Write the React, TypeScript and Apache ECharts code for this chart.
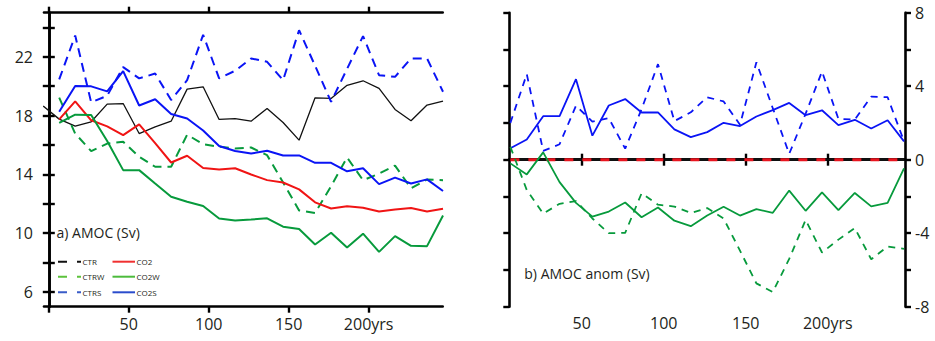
import React, { useEffect, useRef } from "react";
import * as echarts from "echarts";

// Model years (decadal means)
const years = [6.5, 16.5, 26.5, 36.5, 46.5, 56.5, 66.5, 76.5, 86.5, 96.5, 106.5, 116.5, 126.5, 136.5, 146.5, 156.5, 166.5, 176.5, 186.5, 196.5, 206.5, 216.5, 226.5, 236.5, 246.5];
const yearsCtr = [-3.5, 6.5, 16.5, 26.5, 36.5, 46.5, 56.5, 66.5, 76.5, 86.5, 96.5, 106.5, 116.5, 126.5, 136.5, 146.5, 156.5, 166.5, 176.5, 186.5, 196.5, 206.5, 216.5, 226.5, 236.5, 246.5];

// Panel a) AMOC (Sv)
const ctr = [18.65, 17.76, 17.28, 17.58, 18.78, 18.82, 16.78, 17.23, 17.62, 19.8, 19.96, 17.74, 17.8, 17.62, 18.49, 17.53, 16.33, 19.21, 19.17, 20.06, 20.37, 19.85, 18.42, 17.65, 18.72, 18.98];
const ctrs = [20.46, 23.45, 18.9, 19.35, 21.3, 20.53, 20.86, 19.06, 20.41, 23.5, 20.53, 21.05, 21.89, 21.66, 20.41, 23.81, 21.39, 18.94, 21.18, 23.41, 20.75, 20.64, 21.89, 21.89, 19.62];
const ctrw = [19.22, 16.78, 15.58, 16.1, 16.22, 15.2, 14.52, 14.52, 16.7, 16.06, 15.88, 15.76, 15.83, 15.31, 13.45, 11.55, 11.37, 13.2, 15.15, 13.6, 14.05, 14.6, 13.05, 13.65, 13.6];
const co2 = [17.74, 18.97, 17.68, 17.27, 16.67, 17.4, 16.13, 14.81, 15.27, 14.44, 14.34, 14.42, 13.99, 13.61, 13.45, 12.98, 12.1, 11.68, 11.83, 11.73, 11.47, 11.61, 11.71, 11.48, 11.66];
const co2w = [17.5, 18.06, 18.04, 16.27, 14.29, 14.29, 13.38, 12.48, 12.14, 11.85, 11.0, 10.86, 10.93, 11.01, 10.44, 10.29, 9.23, 10.03, 9.02, 9.97, 8.73, 9.8, 9.14, 9.12, 11.2];
const co2s = [18.26, 20.02, 19.99, 19.65, 21.03, 18.69, 19.11, 18.11, 17.8, 16.99, 15.93, 15.59, 15.42, 15.61, 15.29, 15.29, 14.79, 14.79, 14.21, 14.42, 13.34, 13.78, 13.38, 13.66, 12.87];

// Panel b) AMOC anomalies (Sv)
const anomZeroBlack = [0, 0, 0, 0, 0, 0, 0, 0, 0, 0, 0, 0, 0, 0, 0, 0, 0, 0, 0, 0, 0, 0, 0, 0, 0];
const anomZeroRed = [0, 0, 0, 0, 0, 0, 0, 0, 0, 0, 0, 0, 0, 0, 0, 0, 0, 0, 0, 0, 0, 0, 0, 0, 0];
const anomS = [0.62, 1.1, 2.37, 2.37, 4.38, 1.31, 2.95, 3.3, 2.57, 2.57, 1.65, 1.23, 1.5, 2.01, 1.83, 2.35, 2.7, 3.09, 2.42, 2.69, 1.88, 2.17, 1.7, 2.15, 1.0];
const anomCtrS = [2.0, 4.66, 0.48, 0.84, 2.94, 2.07, 2.26, 0.6, 2.75, 5.2, 2.1, 2.58, 3.4, 3.17, 1.9, 5.3, 2.8, 0.32, 2.5, 4.8, 2.22, 2.18, 3.43, 3.4, 1.0];
const anomW = [-0.2, -0.8, 0.4, -1.22, -2.35, -3.1, -2.82, -2.33, -3.13, -2.6, -3.32, -3.62, -3.04, -2.56, -3.04, -2.69, -2.89, -1.68, -2.78, -1.78, -2.74, -1.81, -2.54, -2.35, -0.47];
const anomCtrW = [0.7, -1.65, -2.93, -2.4, -2.25, -3.2, -4.0, -3.98, -1.83, -2.45, -2.55, -2.9, -2.63, -3.2, -4.95, -6.73, -7.2, -5.4, -3.28, -5.05, -4.35, -3.72, -5.42, -4.72, -4.85];

// Axis ticks / labels
const xTicksA = [0, 50, 100, 150, 200];
const xTicksB = [50, 100, 150, 200];
const xLabels = [50, 100, 150, 200];
const yTicksA = [6, 8, 10, 12, 14, 16, 18, 20, 22, 24];
const yLabelsA = [6, 10, 14, 18, 22];
const yLabelsB = [-8, -4, 0, 4, 8];

const legendDashed = ["CTR", "CTRW", "CTRS"];
const legendSolid = ["CO2", "CO2W", "CO2S"];

const BLUE = "#0a14f5";
const RED = "#f01414";
const GREEN = "#079a3c";
const BLACK = "#111111";
const TXT = "#231f20";
const FONT = "Open Sans";

const pair = (xs: number[], vs: number[]) => xs.map((x, i) => [x, vs[i]]);

export default function App() {
  const ref = useRef<HTMLDivElement>(null);
  useEffect(() => {
    if (!ref.current) return;
    const chart = echarts.init(ref.current, null, { renderer: "svg" });
    const axisLine = { show: true, lineStyle: { color: "#000", width: 2.6 } };
    const tick = (vals: number[]) => ({
      show: true,
      inside: false,
      length: 6,
      customValues: vals,
      lineStyle: { color: "#000", width: 2.4 },
    });
    const labelStyle = { fontFamily: FONT, fontSize: 16, color: TXT };
    const xFmt = (v: number) => (v === 200 ? "200yrs" : String(v));

    const line = (
      name: string,
      xi: number,
      yi: number,
      data: number[][],
      color: string,
      width: number,
      dash?: number[] | string
    ) => ({
      type: "line",
      name,
      xAxisIndex: xi,
      yAxisIndex: yi,
      data,
      symbol: "none",
      showSymbol: false,
      clip: true,
      lineStyle: { color, width, type: dash ? dash : "solid" },
      z: 2,
    });

    const legendColorsDashed = ["#111111", "#5cc23c", "#3a5cc8"];
    const legendColorsSolid = ["#f03030", "#4cbb3c", "#2a4ccc"];
    const rowsY = [261.7, 276.7, 292.3];
    const legendGraphics: any[] = [];
    rowsY.forEach((y, i) => {
      legendGraphics.push({
        type: "line",
        shape: { x1: 58, y1: y, x2: 81, y2: y },
        style: { stroke: legendColorsDashed[i], lineWidth: 2, lineDash: [9, 10] },
      });
      legendGraphics.push({
        type: "text",
        x: 82.5,
        y,
        style: { text: legendDashed[i], fontFamily: FONT, fontSize: 8, fill: TXT, textVerticalAlign: "middle" },
      });
      legendGraphics.push({
        type: "line",
        shape: { x1: 112.5, y1: y, x2: 135, y2: y },
        style: { stroke: legendColorsSolid[i], lineWidth: 2 },
      });
      legendGraphics.push({
        type: "text",
        x: 136.5,
        y,
        style: { text: legendSolid[i], fontFamily: FONT, fontSize: 8, fill: TXT, textVerticalAlign: "middle" },
      });
    });

    const option: any = {
      animation: false,
      backgroundColor: "#fff",
      grid: [
        { left: 44, right: 492.3, top: 12.7, bottom: 34.3, containLabel: false },
        { left: 509.3, right: 30, top: 12.7, bottom: 34.3, containLabel: false },
      ],
      xAxis: [
        {
          type: "value", gridIndex: 0, position: "bottom", min: -3, max: 246.3,
          axisLine, axisTick: tick(xTicksA), splitLine: { show: false },
          axisLabel: { ...labelStyle, customValues: xLabels, formatter: xFmt, margin: 9 },
        },
        {
          type: "value", gridIndex: 0, position: "top", min: -3, max: 246.3,
          axisLine, axisTick: tick(xTicksA), splitLine: { show: false }, axisLabel: { show: false },
        },
        {
          type: "value", gridIndex: 1, position: "bottom", min: 5.85, max: 247.1,
          axisLine, axisTick: tick(xTicksB), splitLine: { show: false },
          axisLabel: { ...labelStyle, customValues: xLabels, formatter: xFmt, margin: 8 },
        },
        {
          type: "value", gridIndex: 1, position: "top", min: 5.85, max: 247.1,
          axisLine, axisTick: tick(xTicksB), splitLine: { show: false }, axisLabel: { show: false },
        },
      ],
      yAxis: [
        {
          type: "value", gridIndex: 0, position: "left", min: 5, max: 25,
          axisLine, axisTick: tick(yTicksA), splitLine: { show: false },
          axisLabel: { ...labelStyle, customValues: yLabelsA, margin: 11 },
        },
        {
          type: "value", gridIndex: 0, position: "right", min: 5, max: 25,
          axisLine, axisTick: tick(yTicksA), splitLine: { show: false }, axisLabel: { show: false },
        },
        {
          type: "value", gridIndex: 1, position: "left", min: -8, max: 8, interval: 2,
          axisLine, axisTick: { show: true, inside: false, length: 6, lineStyle: { color: "#000", width: 2.4 } },
          splitLine: { show: false }, axisLabel: { show: false },
        },
        {
          type: "value", gridIndex: 1, position: "right", min: -8, max: 8, interval: 2,
          axisLine, axisTick: { show: true, inside: false, length: 6, lineStyle: { color: "#000", width: 2.4 } },
          splitLine: { show: false },
          axisLabel: { ...labelStyle, customValues: yLabelsB, margin: 10 },
        },
      ],
      series: [
        line("CTR", 0, 0, pair(yearsCtr, ctr), BLACK, 1.3),
        line("CTRS", 0, 0, pair(years, ctrs), BLUE, 2, [9, 6]),
        line("CTRW", 0, 0, pair(years, ctrw), GREEN, 2, [9, 6]),
        line("CO2", 0, 0, pair(years, co2), RED, 2),
        line("CO2W", 0, 0, pair(years, co2w), GREEN, 2),
        line("CO2S", 0, 0, pair(years, co2s), BLUE, 2),
        line("CTR anom", 2, 2, pair(years, anomZeroBlack), BLACK, 1.5),
        line("CO2 anom", 2, 2, pair(years, anomZeroRed), "#e8141e", 3, [9, 9]),
        line("CTRS anom", 2, 2, pair(years, anomCtrS), BLUE, 1.8, [7, 6]),
        line("CO2S anom", 2, 2, pair(years, anomS), BLUE, 1.8),
        line("CTRW anom", 2, 2, pair(years, anomCtrW), GREEN, 1.8, [7, 6]),
        line("CO2W anom", 2, 2, pair(years, anomW), GREEN, 1.8),
      ],
      graphic: [
        {
          type: "text",
          x: 56.5,
          y: 232.7,
          style: { text: "a) AMOC (Sv)", fontFamily: FONT, fontSize: 14, fill: TXT, textVerticalAlign: "middle" },
        },
        {
          type: "text",
          x: 524.3,
          y: 273.3,
          style: { text: "b) AMOC anom (Sv)", fontFamily: FONT, fontSize: 14, fill: TXT, textVerticalAlign: "middle" },
        },
        ...legendGraphics,
      ],
    };
    chart.setOption(option);
    return () => chart.dispose();
  }, []);
  return (
    <div
      ref={ref}
      style={{ position: "absolute", left: 0, top: 0, width: 935, height: 341, background: "#fff" }}
    />
  );
}
